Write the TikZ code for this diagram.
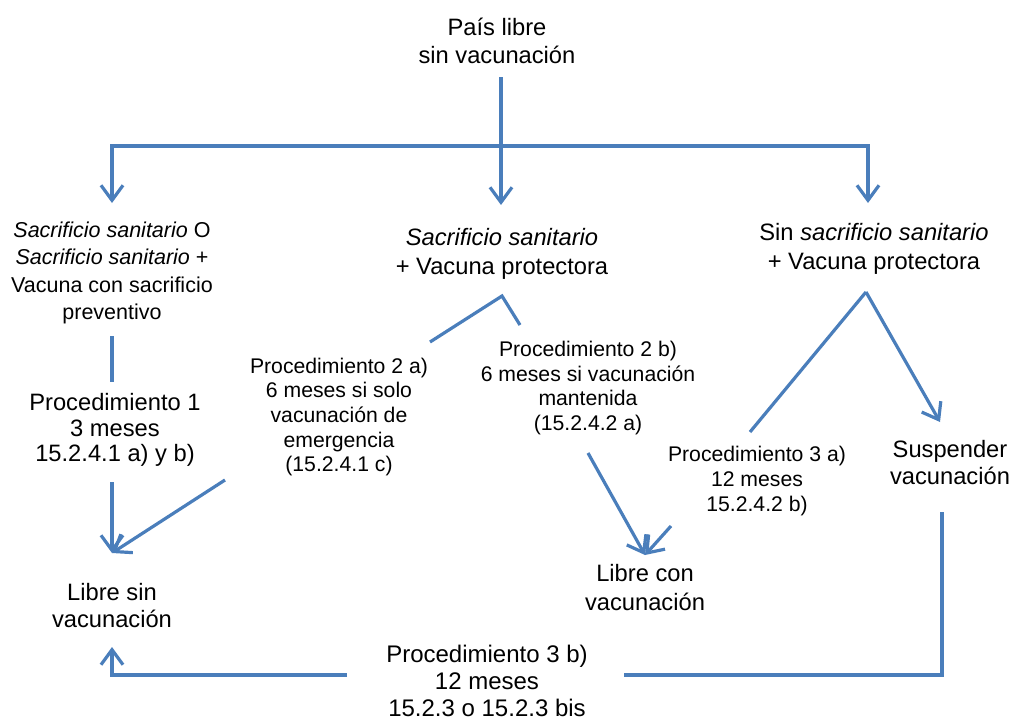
\documentclass[tikz,border=0pt]{standalone}
\usepackage{fontspec}
\setmainfont{Liberation Sans}
\usetikzlibrary{arrows.meta}
\definecolor{flowblue}{HTML}{4A7EBB}
\begin{document}
\begin{tikzpicture}[x=1pt,y=-1pt,
  line/.style={draw=flowblue, line width=3.2pt},
  arr/.style={line, -{Straight Barb[length=15pt,width=22pt]}},
  lbl/.style={align=center, inner sep=0pt, text=black},
  big/.style={lbl, font=\fontsize{23.7}{27.6}\selectfont},
  small/.style={lbl, font=\fontsize{21.2}{24.6}\selectfont}]
\useasboundingbox (0,0) rectangle (1012,720);

% states and procedures
\node[big, font=\fontsize{23.7}{28}\selectfont] (top) at (497,41) {País libre\\sin vacunación};
\node[lbl, font=\fontsize{21.5}{27.3}\selectfont] (stamp) at (112,273)
  {\textit{Sacrificio sanitario} O\\\textit{Sacrificio sanitario} +\\Vacuna con sacrificio\\preventivo};
\node[big, font=\fontsize{23.7}{29}\selectfont] (stampvac) at (502,254) {\textit{Sacrificio sanitario}\\+ Vacuna protectora};
\node[big, font=\fontsize{23.7}{29}\selectfont] (nostamp) at (874,249) {Sin \textit{sacrificio sanitario}\\+ Vacuna protectora};
\node[big, font=\fontsize{23.7}{25.3}\selectfont] (proc1) at (115,430) {Procedimiento 1\\3 meses\\15.2.4.1 a) y b)};
\node[small] (proc2a) at (339,417) {Procedimiento 2 a)\\6 meses si solo\\vacunación de\\emergencia\\(15.2.4.1 c)};
\node[small] (proc2b) at (588,388) {Procedimiento 2 b)\\6 meses si vacunación\\mantenida\\(15.2.4.2 a)};
\node[small] (proc3a) at (757,481) {Procedimiento 3 a)\\12 meses\\15.2.4.2 b)};
\node[big, font=\fontsize{23.7}{27}\selectfont] (suspend) at (950,463) {Suspender\\vacunación};
\node[big, font=\fontsize{23.7}{27}\selectfont] (freeno) at (112,606) {Libre sin\\vacunación};
\node[big, font=\fontsize{23.7}{29}\selectfont] (freevac) at (645,588) {Libre con\\vacunación};
\node[big, font=\fontsize{24}{27.3}\selectfont] (proc3b) at (487,681) {Procedimiento 3 b)\\12 meses\\15.2.3 o 15.2.3 bis};

% connector ends and bends
\coordinate (topfoot) at (501,77);
\coordinate (fork) at (501,146);
\coordinate (tipL) at (112,203);
\coordinate (tipM) at (501,205);
\coordinate (tipR) at (868,203);
\coordinate (l1) at (112,336);
\coordinate (l2) at (112,382);
\coordinate (l3) at (112,482);
\coordinate (freenotip) at (112,553);
\coordinate (apexB) at (502,296);
\coordinate (bL1) at (430,342);
\coordinate (bL2) at (225,480);
\coordinate (bR1) at (520,325);
\coordinate (bR2) at (588,453);
\coordinate (freevactip) at (645,555);
\coordinate (apexC) at (866,292);
\coordinate (cL1) at (750,432);
\coordinate (cL2) at (671,526);
\coordinate (suspendtip) at (940,422);
\coordinate (s1) at (942,512);
\coordinate (g1) at (624,675);
\coordinate (g2) at (347,675);
\coordinate (freenoup) at (112,647);

% branching from the top state
\draw[line] (topfoot) -- (fork);
\draw[arr] (fork) -- (tipM);
\draw[arr] (fork) -| (tipL);
\draw[arr] (fork) -| (tipR);

% procedure 1
\draw[line] (l1) -- (l2);
\draw[arr] (l3) -- (freenotip);

% procedures 2 a) and 2 b)
\draw[line] (bL1) -- (apexB) -- (bR1);
\draw[arr] (bL2) -- (freenotip);
\draw[arr] (bR2) -- (freevactip);

% procedure 3 a) and suspension
\draw[line] (cL1) -- (apexC);
\draw[arr] (apexC) -- (suspendtip);
\draw[arr] (cL2) -- (freevactip);

% procedure 3 b)
\draw[line] (s1) |- (g1);
\draw[arr] (g2) -| (freenoup);
\end{tikzpicture}
\end{document}
